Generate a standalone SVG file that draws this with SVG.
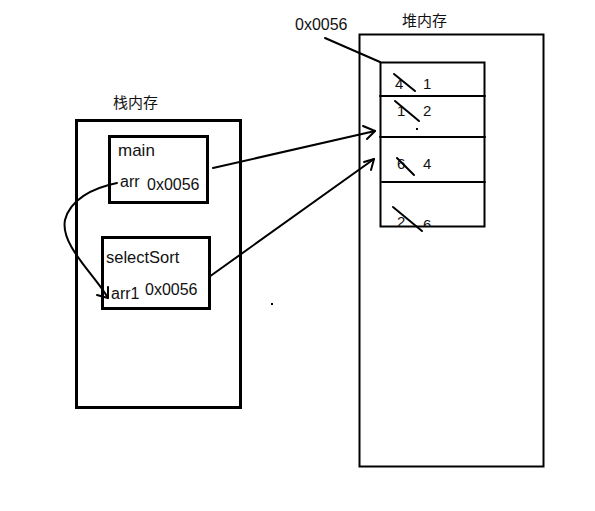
<svg xmlns="http://www.w3.org/2000/svg" width="595" height="511" viewBox="0 0 595 511">
  <style>
    .box { fill: none; stroke: #000; }
    .t { font-family: "Liberation Sans", "Noto Sans CJK SC", sans-serif; fill: #111; }
    .lbl { font-size: 16px; }
    .num { font-size: 15px; }
    .cjk { font-family: "Noto Sans CJK SC", "Liberation Sans", sans-serif; font-size: 15px; fill: #111; }
    .ln { fill: none; stroke: #000; stroke-width: 2; stroke-linecap: round; stroke-linejoin: round; }
  </style>
  <defs>
    <clipPath id="cellClip"><rect x="380" y="182" width="105" height="44"/></clipPath>
  </defs>
  <rect width="595" height="511" fill="#fff"/>

  <!-- stack memory -->
  <g id="stack">
    <text class="cjk" x="113" y="108">栈内存</text>
    <rect class="box" x="76.5" y="120.5" width="164" height="287" stroke-width="3"/>
  </g>
  <g id="main">
    <rect class="box" x="109.5" y="136.5" width="98" height="66" stroke-width="3"/>
    <text class="t" x="118" y="156" font-size="17">main</text>
    <text class="t lbl" x="120" y="187">arr</text>
    <text class="t lbl" x="147" y="190">0x0056</text>
  </g>
  <g id="selectSort">
    <rect class="box" x="102.5" y="237.5" width="107" height="71" stroke-width="3"/>
    <text class="t" x="106" y="263" font-size="16.5">selectSort</text>
    <text class="t lbl" x="111" y="299">arr1</text>
    <text class="t lbl" x="145" y="295">0x0056</text>
  </g>

  <!-- heap memory -->
  <g id="heap">
    <text class="cjk" x="402" y="26">堆内存</text>
    <rect class="box" x="359.5" y="34.5" width="184" height="432" stroke-width="2"/>
    <text class="t lbl" x="295" y="30">0x0056</text>
    <line class="ln" x1="325" y1="38" x2="380" y2="62"/>
  </g>
  <g id="array">
    <rect class="box" x="380.5" y="62.5" width="104" height="164" stroke-width="2"/>
    <line class="ln" x1="380" y1="96" x2="485" y2="96" stroke-width="3" stroke-linecap="butt"/>
    <line class="ln" x1="380" y1="137" x2="485" y2="137" stroke-linecap="butt"/>
    <line class="ln" x1="382" y1="182" x2="485" y2="182" stroke-linecap="butt"/>
    <text class="t num" x="395" y="89">4</text>
    <text class="t num" x="423" y="89">1</text>
    <text class="t num" x="397" y="116">1</text>
    <text class="t num" x="423" y="116">2</text>
    <text class="t num" x="397" y="169">6</text>
    <text class="t num" x="423" y="169">4</text>
    <!-- last cell: digits run past the box bottom and are cut off -->
    <g clip-path="url(#cellClip)">
      <text class="t num" x="397" y="227">2</text>
      <text class="t num" x="423" y="230">6</text>
    </g>
    <line class="ln" x1="394" y1="74" x2="415" y2="91"/>
    <line class="ln" x1="395" y1="101" x2="419" y2="121"/>
    <line class="ln" x1="397" y1="158" x2="414" y2="175"/>
    <line class="ln" x1="393" y1="207" x2="422" y2="231"/>
    <rect x="416" y="128" width="2" height="2" fill="#000"/>
  </g>

  <!-- references -->
  <g id="connectors">
    <path class="ln" d="M213 168 L375 131"/>
    <path class="ln" d="M363 126 L375 131 L367 139"/>
    <path class="ln" d="M209 277 L374 159"/>
    <path class="ln" d="M364 162 L374 159 L371 170"/>
    <path class="ln" d="M117 183 C92 188 70 200 65 220 C60 245 95 275 108 298"/>
    <path class="ln" d="M97 295 L108 298 L108 287"/>
    <rect x="271" y="303" width="2" height="2" fill="#000"/>
  </g>
</svg>
